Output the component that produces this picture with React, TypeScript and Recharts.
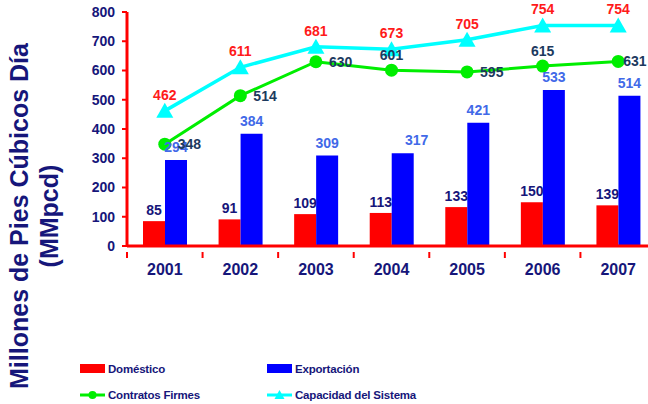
import React from 'react';
import { ComposedChart, Bar, Line, XAxis, YAxis, Legend, LabelList, Label } from 'recharts';

const years = ['2001', '2002', '2003', '2004', '2005', '2006', '2007'];
const domestico = [85, 91, 109, 113, 133, 150, 139];
const exportacion = [294, 384, 309, 317, 421, 533, 514];
const contratosFirmes = [348, 514, 630, 601, 595, 615, 631];
const capacidadSistema = [462, 611, 681, 673, 705, 754, 754];
const yTicks = [0, 100, 200, 300, 400, 500, 600, 700, 800];

// where each "Contratos Firmes" label sits relative to its point
const firmesLabelSide = ['right', 'right', 'right', 'top', 'right', 'top', 'near'];

const data = years.map((year, i) => ({
  year,
  domestico: domestico[i],
  exportacion: exportacion[i],
  contratos: contratosFirmes[i],
  capacidad: capacidadSistema[i],
}));

const NAVY = '#16167a';
const SLATE = '#1c3a5e';
const EXPORT_TXT = '#4169e8';
const FONT = '"Liberation Sans", Arial, sans-serif';

const XTick = (props: any) => {
  const { x, y, payload } = props;
  const half = payload.offset || 0;
  return (
    <g>
      <line x1={x - half} x2={x - half} y1={y - 2} y2={y + 4} stroke="#ff0000" strokeWidth={2} />
      <text x={x} y={y + 21} textAnchor="middle" fill={NAVY} fontSize={16} fontWeight="bold" fontFamily={FONT}>
        {payload.value}
      </text>
    </g>
  );
};

const Triangle = (props: any) => {
  const { cx, cy, fill, key } = props;
  if (cx == null || cy == null) return null;
  return <polygon key={key} points={`${cx},${cy - 8} ${cx - 8.5},${cy + 7} ${cx + 8.5},${cy + 7}`} fill={fill} />;
};

const FirmesLabel = (props: any) => {
  const { x, y, value, index } = props;
  const side = firmesLabelSide[index];
  let tx = x + 13;
  let ty = y + 5;
  let anchor: 'start' | 'middle' = 'start';
  if (side === 'top') {
    tx = x;
    ty = y - 10;
    anchor = 'middle';
  } else if (side === 'near') {
    tx = x + 5;
  }
  return (
    <text x={tx} y={ty} textAnchor={anchor} fill={SLATE} fontSize={14} fontWeight="bold" fontFamily={FONT}>
      {value}
    </text>
  );
};

const ExportLabel = (props: any) => {
  const { x, y, width, value, index } = props;
  const shift = index === 3 ? 14 : 0;
  return (
    <text x={x + width / 2 + shift} y={y - 8} textAnchor="middle" fill={EXPORT_TXT} fontSize={14} fontWeight="bold" fontFamily={FONT}>
      {value}
    </text>
  );
};

const YTitle = (props: any) => {
  const vb = props.viewBox || { x: 0 };
  const cy = 216;
  return (
    <g fill={NAVY} fontSize={25} fontWeight="bold" fontFamily={FONT}>
      <text x={vb.x + 28} y={cy} textAnchor="middle" transform={`rotate(-90 ${vb.x + 28} ${cy})`}>
        Millones de Pies Cúbicos Día
      </text>
      <text x={vb.x + 58} y={cy} textAnchor="middle" transform={`rotate(-90 ${vb.x + 58} ${cy})`}>
        (MMpcd)
      </text>
    </g>
  );
};

const legendItems = [
  { name: 'Doméstico', kind: 'rect', color: '#ff0000' },
  { name: 'Exportación', kind: 'rect', color: '#0000ff' },
  { name: 'Contratos Firmes', kind: 'circle', color: '#00ee00' },
  { name: 'Capacidad del Sistema', kind: 'triangle', color: '#00ffff' },
];

const LegendBox = () => (
  <div style={{ display: 'grid', gridTemplateColumns: '187px 200px', rowGap: 9, fontFamily: FONT, fontSize: 11.5, fontWeight: 'bold', color: NAVY }}>
    {legendItems.map((it) => (
      <div key={it.name} style={{ display: 'flex', alignItems: 'center', height: 17 }}>
        <svg width={27} height={12} style={{ marginRight: 1 }}>
          {it.kind === 'rect' && <rect x={0} y={1} width={25} height={9} fill={it.color} />}
          {it.kind !== 'rect' && <line x1={0} x2={25} y1={6} y2={6} stroke={it.color} strokeWidth={3} />}
          {it.kind === 'circle' && <circle cx={12.5} cy={6} r={4} fill={it.color} />}
          {it.kind === 'triangle' && <polygon points="12.5,1 7.5,10 17.5,10" fill={it.color} />}
        </svg>
        <span style={{ letterSpacing: -0.2 }}>{it.name}</span>
      </div>
    ))}
  </div>
);

export default function App() {
  return (
    <div style={{ position: 'absolute', left: 0, top: 0, width: 648, height: 404, overflow: 'hidden', background: '#fff' }}>
      <ComposedChart
        width={660}
        height={404}
        data={data}
        margin={{ top: 12, right: 4, bottom: 0, left: 0 }}
        barGap={0}
      >
        <XAxis
          dataKey="year"
          axisLine={{ stroke: '#ff0000', strokeWidth: 3 }}
          tickLine={false}
          tick={<XTick />}
          interval={0}
          height={40}
        />
        <YAxis
          domain={[0, 800]}
          ticks={yTicks}
          width={127}
          axisLine={{ stroke: '#ff0000', strokeWidth: 3 }}
          tickLine={{ stroke: '#ff0000', strokeWidth: 2 }}
          tickSize={5}
          tickMargin={7}
          tick={{ fill: NAVY, fontSize: 14, fontWeight: 'bold', fontFamily: FONT }}
        >
          <Label content={<YTitle />} />
        </YAxis>
        <Legend
          verticalAlign="bottom"
          content={<LegendBox />}
          wrapperStyle={{ left: 80, bottom: 0, height: 118, width: 400, paddingTop: 74, boxSizing: 'border-box' }}
        />
        <Bar dataKey="domestico" name="Doméstico" fill="#ff0000" barSize={22} isAnimationActive={false}>
          <LabelList dataKey="domestico" position="top" offset={6} fill={NAVY} fontSize={14} fontWeight="bold" fontFamily={FONT} />
        </Bar>
        <Bar dataKey="exportacion" name="Exportación" fill="#0000ff" barSize={22} isAnimationActive={false}>
          <LabelList dataKey="exportacion" content={<ExportLabel />} />
        </Bar>
        <Line
          dataKey="contratos"
          name="Contratos Firmes"
          stroke="#00ee00"
          strokeWidth={3}
          dot={{ r: 6.5, fill: '#00ee00', stroke: 'none' }}
          isAnimationActive={false}
        >
          <LabelList dataKey="contratos" content={<FirmesLabel />} />
        </Line>
        <Line
          dataKey="capacidad"
          name="Capacidad del Sistema"
          stroke="#00ffff"
          strokeWidth={3.5}
          dot={(p: any) => <Triangle {...p} fill="#00ffff" />}
          isAnimationActive={false}
        >
          <LabelList dataKey="capacidad" position="top" offset={11} fill="#ff1a1a" fontSize={14} fontWeight="bold" fontFamily={FONT} />
        </Line>
      </ComposedChart>
    </div>
  );
}
